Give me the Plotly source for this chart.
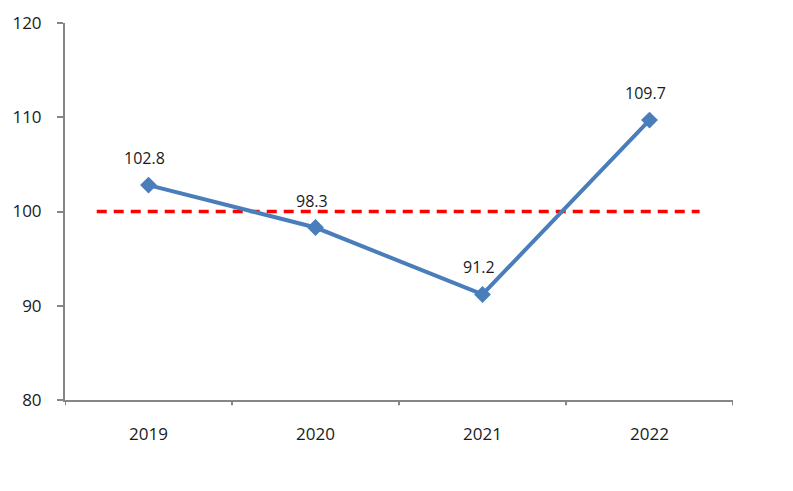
import plotly.graph_objects as go

years = ["2019", "2020", "2021", "2022"]
values = [102.8, 98.3, 91.2, 109.7]
labels = ["102.8", "98.3", "91.2", "109.7"]
ref_value = 100
ref_x = [-0.31, 3.3]
y_ticks = [80, 90, 100, 110, 120]

FONT = "Open Sans, Liberation Sans, sans-serif"

fig = go.Figure()
fig.add_trace(go.Scatter(
    x=ref_x, y=[ref_value, ref_value], mode="lines",
    line=dict(color="#FF0000", width=3.5, dash="10px,7px"),
    hoverinfo="skip", showlegend=False,
))
fig.add_trace(go.Scatter(
    x=list(range(len(years))), y=values, mode="lines+markers",
    line=dict(color="#4A7EBB", width=4),
    marker=dict(symbol="diamond", size=13, color="#4A7EBB"),
    showlegend=False,
))
annotations = [
    dict(x=i, y=v, text=t, showarrow=False, xref="x", yref="y",
         yanchor="bottom", yshift=14, xshift=-4,
         font=dict(family=FONT, size=16, color="#1a1a1a"))
    for i, (v, t) in enumerate(zip(values, labels))
]
fig.update_layout(
    width=793, height=491,
    margin=dict(l=65, r=60, t=23, b=91),
    plot_bgcolor="white", paper_bgcolor="white",
    font=dict(family=FONT, size=16, color="#1a1a1a"),
    annotations=annotations,
    shapes=[
        dict(type="line", xref="x", yref="paper", x0=b, x1=b, y0=0, y1=-0.014,
             line=dict(color="#868686", width=2))
        for b in [-0.5, 0.5, 1.5, 2.5, 3.5]
    ],
)
fig.update_xaxes(
    range=[-0.5, 3.5], tickmode="array", tickvals=list(range(len(years))), ticktext=years,
    showgrid=False, zeroline=False, showline=True, linecolor="#868686", linewidth=2,
    ticks="", ticklabelstandoff=18, tickfont=dict(size=17),
)
fig.update_yaxes(
    range=[80, 120], tickvals=y_ticks, showgrid=False, zeroline=False,
    showline=True, linecolor="#868686", linewidth=2,
    ticks="outside", ticklen=6, tickcolor="#868686", tickwidth=2, ticklabelstandoff=12,
    tickfont=dict(size=17),
)
fig.write_html("out.html")
